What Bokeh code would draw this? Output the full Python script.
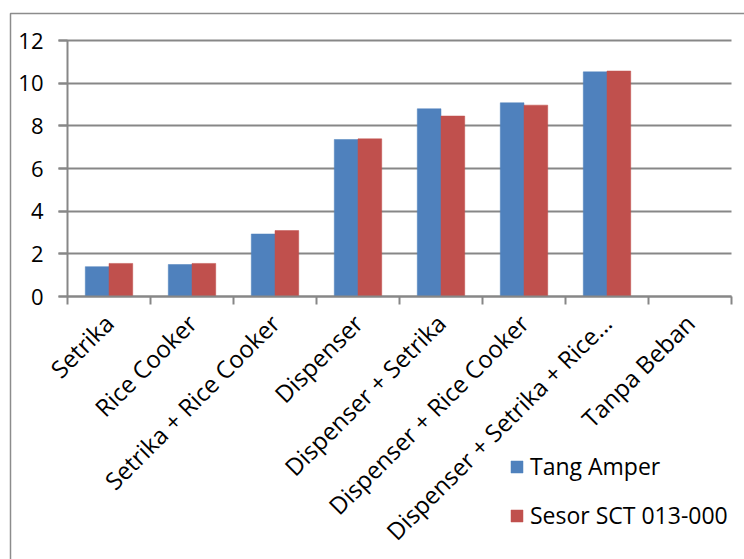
from bokeh.plotting import figure
from bokeh.models import (ColumnDataSource, Range1d, FixedTicker, Legend, LegendItem,
                          BoxAnnotation)
from bokeh.transform import dodge
from bokeh.embed import file_html
from bokeh.resources import INLINE

categories = ["Setrika", "Rice Cooker", "Setrika + Rice Cooker", "Dispenser",
              "Dispenser + Setrika", "Dispenser + Rice Cooker",
              "Dispenser + Setrika + Rice\u2026", "Tanpa Beban"]
tang_amper = [1.40, 1.50, 2.93, 7.36, 8.80, 9.08, 10.53, 0.0]
sensor_sct = [1.55, 1.55, 3.09, 7.39, 8.46, 8.97, 10.57, 0.0]
series_names = ["Tang Amper", "Sesor SCT 013-000"]
y_ticks = [0, 2, 4, 6, 8, 10, 12]

BLUE = "#4F81BD"
RED = "#C0504D"
GRAY = "#878787"
FONT = "Open Sans"

W, H = 744, 559
# pixel layout of the plotting area inside the canvas
PX_LEFT, PX_RIGHT, PX_TOP, PX_BOTTOM = 67, 731, 40, 296

n = len(categories)
y_max = y_ticks[-1]
centers = [i + 0.5 for i in range(n)]
bounds = [float(i) for i in range(n + 1)]
bar_w = 1 / 3.5

sx = (PX_RIGHT - PX_LEFT) / n          # px per category
sy = (PX_BOTTOM - PX_TOP) / y_max      # px per unit
x_range = Range1d(-PX_LEFT / sx, n + (W - PX_RIGHT) / sx)
y_range = Range1d(-(H - PX_BOTTOM) / sy, y_max + PX_TOP / sy)

src = ColumnDataSource(dict(x=centers, a=tang_amper, b=sensor_sct))

p = figure(width=W, height=H, output_backend="svg", toolbar_location=None,
           x_range=x_range, y_range=y_range,
           min_border_left=0, min_border_right=0, min_border_top=0,
           min_border_bottom=0)
p.outline_line_color = None
p.background_fill_color = "white"
p.border_fill_color = "white"

# outer chart-area border (screen units, origin at bottom-left of canvas)
p.add_layout(BoxAnnotation(left=10, right=W + 100, top=H - 13, bottom=-100,
                           left_units="screen", right_units="screen",
                           top_units="screen", bottom_units="screen",
                           fill_alpha=0, line_color="#8c8c8c", line_alpha=1.0,
                           line_width=1.5, propagate_hover=False))

p.xgrid.grid_line_color = None
p.ygrid.ticker = FixedTicker(ticks=y_ticks)
p.ygrid.grid_line_color = GRAY
p.ygrid.grid_line_width = 2
p.ygrid.bounds = (0, y_max)
p.ygrid.cross_bounds = (-9 / sx, n)

r1 = p.vbar(x=dodge("x", -bar_w / 2, range=p.x_range), top="a", width=bar_w,
            bottom=0, source=src, fill_color=BLUE, line_color=BLUE, line_width=0.5)
r2 = p.vbar(x=dodge("x", bar_w / 2, range=p.x_range), top="b", width=bar_w,
            bottom=0, source=src, fill_color=RED, line_color=RED, line_width=0.5)

# axes drawn at fixed data locations
p.xaxis.fixed_location = 0
p.xaxis.bounds = (0, n)
p.xaxis.ticker = FixedTicker(ticks=centers, minor_ticks=bounds)
p.xaxis.major_label_overrides = {c: lab for c, lab in zip(centers, categories)}
p.xaxis.major_tick_line_color = None
p.xaxis.minor_tick_in = 0
p.xaxis.minor_tick_out = 8
p.xaxis.minor_tick_line_color = GRAY
p.xaxis.minor_tick_line_width = 2
p.xaxis.axis_line_color = GRAY
p.xaxis.axis_line_width = 2
p.xaxis.major_label_orientation = 0.785398
p.xaxis.major_label_text_font = FONT
p.xaxis.major_label_text_font_size = "24px"
p.xaxis.major_label_text_color = "black"
p.xaxis.major_label_standoff = 14

p.yaxis.fixed_location = 0
p.yaxis.bounds = (0, y_max)
p.yaxis.ticker = FixedTicker(ticks=y_ticks)
p.yaxis.minor_tick_line_color = None
p.yaxis.major_tick_in = 0
p.yaxis.major_tick_out = 9
p.yaxis.major_tick_line_color = GRAY
p.yaxis.major_tick_line_width = 2
p.yaxis.axis_line_color = GRAY
p.yaxis.axis_line_width = 2
p.yaxis.major_label_text_font = FONT
p.yaxis.major_label_text_font_size = "22px"
p.yaxis.major_label_text_color = "black"
p.yaxis.major_label_standoff = 15

for r, name, loc in [(r1, series_names[0], (509, 77)), (r2, series_names[1], (509, 28))]:
    lg = Legend(items=[LegendItem(label=name, renderers=[r])], location=loc,
                glyph_width=15, glyph_height=15, label_text_font=FONT,
                label_text_font_size="23px", label_text_color="black",
                padding=0, margin=0, border_line_color=None,
                background_fill_alpha=0, label_standoff=6)
    p.add_layout(lg, "center")

open("out.html", "w").write(file_html(p, INLINE))
